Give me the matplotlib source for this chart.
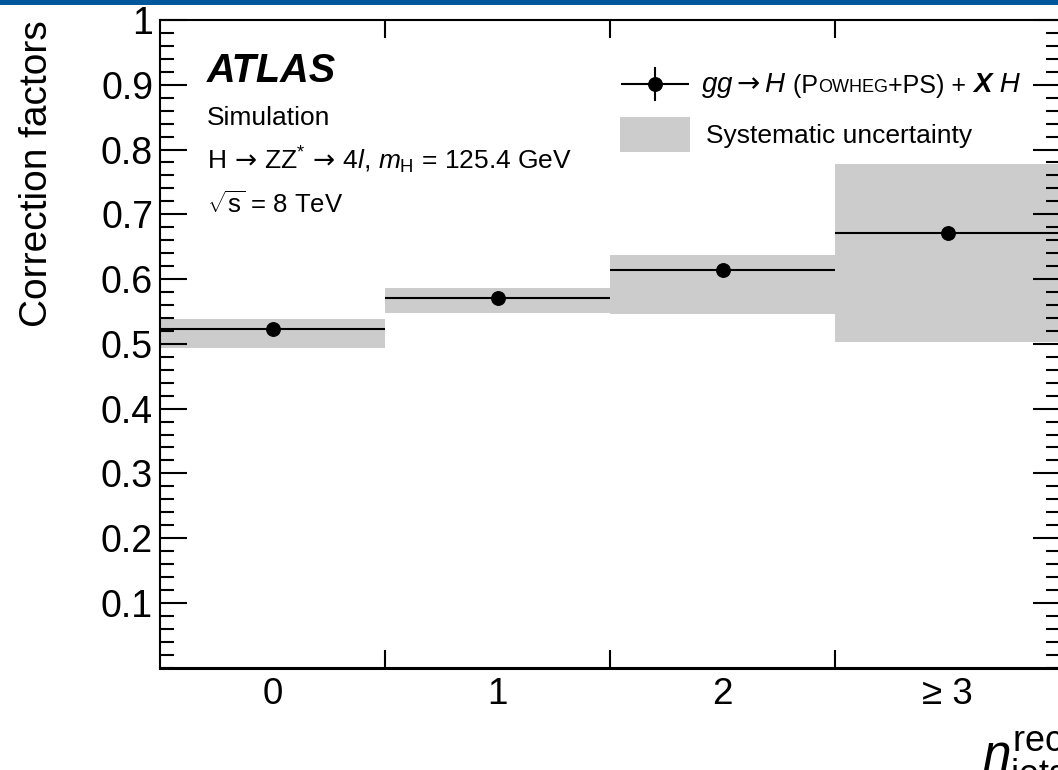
import numpy as np
import matplotlib
matplotlib.use("Agg")
import matplotlib.pyplot as plt
from matplotlib.patches import Rectangle
from matplotlib.container import ErrorbarContainer
from matplotlib.legend_handler import HandlerErrorbar
from matplotlib.offsetbox import TextArea, HPacker, AnnotationBbox
from matplotlib.ticker import MultipleLocator, FixedLocator, NullFormatter

# ---------------- data ----------------
categories = ["0", "1", "2", "≥ 3"]
values = [0.523, 0.571, 0.614, 0.671]
syst_low = [0.493, 0.548, 0.546, 0.503]
syst_high = [0.538, 0.586, 0.637, 0.778]
ytick_values = [0.1, 0.2, 0.3, 0.4, 0.5, 0.6, 0.7, 0.8, 0.9, 1.0]
ytick_labels = ["0.1", "0.2", "0.3", "0.4", "0.5", "0.6", "0.7", "0.8", "0.9", "1"]

plt.rcParams['font.family'] = ['Liberation Sans', 'DejaVu Sans']
plt.rcParams['mathtext.fontset'] = 'custom'
plt.rcParams['mathtext.rm'] = 'Liberation Sans'
plt.rcParams['mathtext.it'] = 'Liberation Sans:italic'
plt.rcParams['mathtext.bf'] = 'Liberation Sans:bold'
plt.rcParams['mathtext.sf'] = 'DejaVu Sans'

W, H = 1058, 770
fig = plt.figure(figsize=(W / 100, H / 100), dpi=100)
ax_left, ax_top, ax_bottom, ax_right = 160, 20, 667.7, 1060
ax = fig.add_axes([ax_left / W, (H - ax_bottom) / H, (ax_right - ax_left) / W, (ax_bottom - ax_top) / H])

def axpos(px, py):
    return ((px - ax_left) / (ax_right - ax_left), (ax_bottom - py) / (ax_bottom - ax_top))

x = np.arange(len(categories))
lo = np.array(syst_low)
hi = np.array(syst_high)
bars = ax.bar(x, hi - lo, bottom=lo, width=1.0, color='#cccccc', linewidth=0, zorder=1)
eb = ax.errorbar(x, values, xerr=0.5, yerr=np.zeros(len(x)), fmt='o', color='black',
                 ms=9.7, elinewidth=1.5, capsize=0, zorder=3)

ax.set_xlim(-0.5, 3.5)
ax.set_ylim(0, 1.0)

# x ticks: edges (major, unlabeled), centers (minor, labeled)
ax.xaxis.set_major_locator(FixedLocator([0.5, 1.5, 2.5]))
ax.xaxis.set_major_formatter(NullFormatter())
ax.set_xticks(x, minor=True)
ax.set_xticklabels(categories, minor=True)
ax.tick_params(axis='x', which='major', direction='in', length=13, width=1.5, top=True, bottom=True)
ax.tick_params(axis='x', which='minor', length=0, labelsize=26.5, pad=7)

ax.set_yticks(ytick_values)
ax.set_yticklabels(ytick_labels)
ax.yaxis.set_minor_locator(MultipleLocator(0.02))
ax.tick_params(axis='y', which='major', direction='in', length=19.4, width=1.5,
               left=True, right=True, labelsize=27, pad=5)
ax.tick_params(axis='y', which='minor', direction='in', length=10, width=1.5, left=True, right=True)
for s in ax.spines.values():
    s.set_linewidth(1.5)
ax.spines['bottom'].set_linewidth(2.2)

# axis labels
ax.set_ylabel("Correction factors", fontsize=28, loc='top')
ax.yaxis.set_label_coords(axpos(47, 0)[0], 1.0)
ax.yaxis.label.set_va('baseline')

ax.set_xlabel(r"$n_{\mathrm{jets}}^{\mathrm{reco}}$", fontsize=37)
lx, ly = axpos(982, 772)
ax.xaxis.set_label_coords(lx, ly)
ax.xaxis.label.set_ha('left')
ax.xaxis.label.set_va('baseline')

# text block
tx, ty = axpos(207, 82)
ax.text(tx, ty, "ATLAS", transform=ax.transAxes, fontsize=28.5, fontweight='bold', fontstyle='italic', va='baseline')
tx, ty = axpos(207, 125)
ax.text(tx, ty, "Simulation", transform=ax.transAxes, fontsize=19, va='baseline')
tx, ty = axpos(207, 169)
ax.text(tx, ty,
        r"H$\,\mathsf{\rightarrow}\,$ZZ$^{*}\,\mathsf{\rightarrow}\,$4$\mathit{l}$, $m_{\mathrm{H}}$ = 125.4 GeV",
        transform=ax.transAxes, fontsize=19, va='baseline')
tx, ty = axpos(207, 213)
ax.text(tx, ty, r"$\sqrt{\mathrm{s}}$ = 8 TeV", transform=ax.transAxes, fontsize=18.5, va='baseline')

# legend
fs = 19
fpx = fs * 100 / 72
hh = (35 / fpx - 0.245) / 0.65
leg = ax.legend(handles=[eb, bars], labels=['', 'Systematic uncertainty'],
                loc='upper left', bbox_to_anchor=(620 / W, 1 - 71 / H), bbox_transform=fig.transFigure,
                frameon=False, fontsize=fs, borderpad=0, borderaxespad=0,
                handlelength=70 / fpx, handleheight=hh, handletextpad=16 / fpx,
                labelspacing=11 / fpx,
                handler_map={ErrorbarContainer: HandlerErrorbar(xerr_size=1.3, yerr_size=0.66)})

pieces = [
    (r"$gg\mathsf{\rightarrow}H$", dict(size=20)),
    (" (P", dict(size=18)),
    ("OWHEG", dict(size=13)),
    ("+PS) + ", dict(size=18)),
    ("X", dict(size=20, style='italic', weight='bold')),
    (" H", dict(size=20, style='italic')),
]
areas = [TextArea(t, textprops=dict(color='black', **p)) for t, p in pieces]
hp = HPacker(children=areas, align='baseline', pad=0, sep=0)
ab = AnnotationBbox(hp, (701 / W, 1 - 86 / H), xycoords='figure fraction',
                    box_alignment=(0, 0.5), frameon=False, pad=0)
fig.add_artist(ab)

# top banner
fig.add_artist(Rectangle((0, 1 - 5 / H), 1, 5 / H, transform=fig.transFigure,
                         color='#01579b', linewidth=0))

fig.savefig("out.png", dpi=100)
